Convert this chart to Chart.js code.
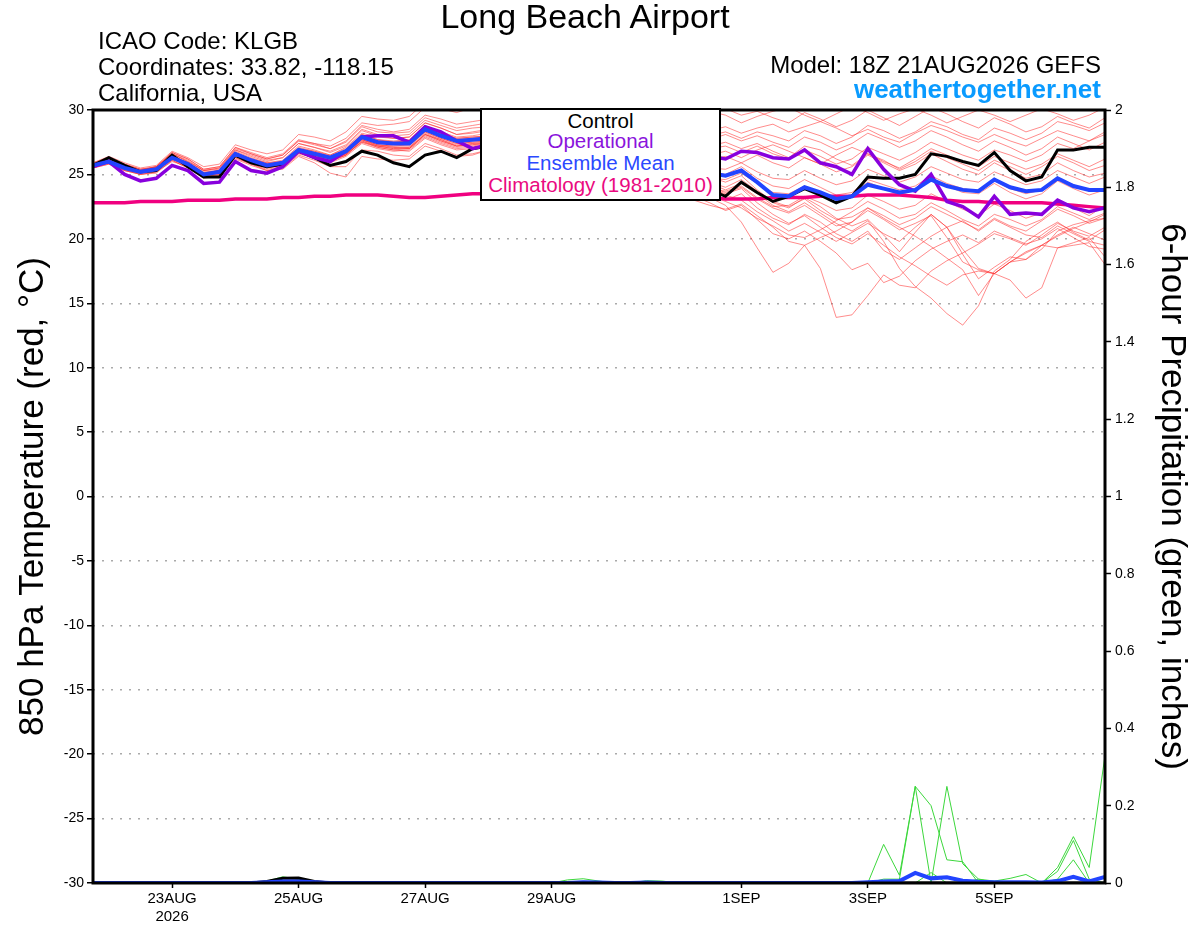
<!DOCTYPE html>
<html>
<head>
<meta charset="utf-8">
<script src="https://cdn.jsdelivr.net/npm/chart.js@4.4.1/dist/chart.umd.min.js"></script>
<style>
  body { margin: 0; background: #fff; }
  #wrap { position: relative; width: 1200px; height: 927px; font-family: "Liberation Sans", Arial, sans-serif; color: #000; }
  #wrap canvas { position: absolute; left: 0; top: 0; }
  .t { position: absolute; line-height: 1; white-space: nowrap; }
  #legend { position: absolute; left: 480px; top: 108px; width: 237px; height: 89px; border: 2px solid #000; background: #fff; font-size: 20.5px; }
  #legend div { position: absolute; left: 0; width: 100%; text-align: center; line-height: 1; }
</style>
</head>
<body>
<div id="wrap">
  <canvas id="meteogram" width="1200" height="927"></canvas>
  <div class="t" style="left:585px; top:-1px; font-size:34px; transform:translateX(-50%);">Long Beach Airport</div>
  <div class="t" style="left:98px; top:29px; font-size:24px;">ICAO Code: KLGB</div>
  <div class="t" style="left:98px; top:55px; font-size:24px;">Coordinates: 33.82, -118.15</div>
  <div class="t" style="left:98px; top:81px; font-size:24px;">California, USA</div>
  <div class="t" style="right:99px; top:53px; font-size:24px;">Model: 18Z 21AUG2026 GEFS</div>
  <div class="t" style="right:99px; top:76px; font-size:26px; font-weight:bold; color:#0a9bff;">weathertogether.net</div>
  <div id="legend">
    <div style="top:1px; color:#000;">Control</div>
    <div style="top:21px; color:#8a14dc;">Operational</div>
    <div style="top:43px; color:#2a48ff;">Ensemble Mean</div>
    <div style="top:65px; color:#ea0a80;">Climatology (1981-2010)</div>
  </div>
</div>
<script>
// forecast hours from 18Z 21AUG2026, 6-hourly
const fcstHours = [0, 6, 12, 18, 24, 30, 36, 42, 48, 54, 60, 66, 72, 78, 84, 90, 96, 102, 108, 114,
  120, 126, 132, 138, 144, 150, 156, 162, 168, 174, 180, 186, 192, 198, 204, 210, 216, 222, 228, 234,
  240, 246, 252, 258, 264, 270, 276, 282, 288, 294, 300, 306, 312, 318, 324, 330, 336, 342, 348, 354,
  360, 366, 372, 378, 384];

const dateTickHours = [30, 78, 126, 174, 246, 294, 342];
const dateTickText = [['23AUG', '2026'], '25AUG', '27AUG', '29AUG', '1SEP', '3SEP', '5SEP'];

// 850 hPa temperature (C)
const ctrlTemp = [25.7, 26.3, 25.7, 25.2, 25.3, 26.5, 25.6, 24.8, 24.8, 26.5, 25.9, 25.6, 25.8, 26.8, 26.3, 25.7, 26.0, 26.8, 26.5, 25.9, 25.6, 26.5, 26.8, 26.3, 27.0,
  27.2, 26.8, 27.0, 26.4, 25.9, 26.3, 25.8, 25.2, 25.6, 25.0, 24.6, 24.9, 24.2, 23.9, 23.8,
  23.3, 24.4, 23.6, 22.9, 23.3, 23.9, 23.4, 22.8, 23.3, 24.8, 24.7, 24.7, 25.0, 26.6, 26.4, 26.0, 25.7, 26.7, 25.3, 24.5, 24.8, 26.9, 26.9, 27.1, 27.1];

const operTemp = [25.6, 26.0, 25.0, 24.5, 24.7, 25.7, 25.3, 24.3, 24.4, 26.0, 25.3, 25.1, 25.6, 26.8, 26.3, 26.0, 26.8, 27.9, 28.0, 28.0, 27.5, 28.7, 28.3, 27.6, 27.0,
  27.3, 27.8, 28.2, 27.5, 27.0, 27.6, 27.1, 26.6, 27.2, 26.8, 26.3, 26.7, 26.1, 26.5, 26.4,
  26.2, 26.8, 26.7, 26.3, 26.2, 26.9, 25.9, 25.6, 25.0, 27.0, 25.4, 24.2, 23.7, 25.0, 22.9, 22.5, 21.7, 23.3, 21.9, 22.0, 21.9, 23.0, 22.4, 22.1, 22.4];

const meanTemp = [25.7, 26.0, 25.5, 25.2, 25.4, 26.3, 25.8, 25.0, 25.2, 26.6, 26.1, 25.7, 25.9, 26.9, 26.6, 26.3, 26.8, 27.9, 27.5, 27.4, 27.4, 28.5, 28.0, 27.6, 27.7,
  27.8, 27.5, 27.9, 27.2, 26.8, 27.3, 26.6, 26.2, 26.7, 26.0, 25.5, 25.9, 25.3, 25.0, 25.1,
  24.9, 25.3, 24.4, 23.4, 23.3, 24.0, 23.6, 23.1, 23.3, 24.2, 23.9, 23.6, 23.8, 24.6, 24.1, 23.8, 23.7, 24.6, 24.0, 23.7, 23.8, 24.7, 24.1, 23.8, 23.8];

const climTemp = [22.8, 22.8, 22.8, 22.9, 22.9, 22.9, 23.0, 23.0, 23.0, 23.1, 23.1, 23.1, 23.2, 23.2, 23.3, 23.3, 23.4, 23.4, 23.4, 23.3, 23.2, 23.2, 23.3, 23.4, 23.5,
  23.5, 23.5, 23.6, 23.6, 23.6, 23.5, 23.5, 23.5, 23.4, 23.4, 23.4, 23.3, 23.3, 23.3, 23.2,
  23.1, 23.1, 23.1, 23.2, 23.2, 23.2, 23.3, 23.3, 23.3, 23.4, 23.4, 23.4, 23.3, 23.2, 23.0, 22.9, 22.9, 22.8, 22.8, 22.8, 22.8, 22.7, 22.6, 22.5, 22.4];

// ensemble members
const mem01 = [25.8, 26.2, 25.6, 25.3, 25.6, 26.6, 26.0, 25.3, 25.5, 27.0, 26.6, 26.2, 26.5, 27.6, 27.4, 27.2, 27.8, 29.0, 28.8, 28.9, 29.1, 30.2, 30.1, 29.8, 30.2,
  30.4, 29.9, 30.3, 29.7, 29.2, 29.8, 29.5, 28.9, 29.6, 29.1, 28.7, 29.4, 28.8, 29.3, 29.8,
  30.1, 29.6, 29.9, 29.4, 29.0, 29.8, 29.3, 28.7, 29.2, 30.0, 29.4, 28.8, 29.5, 30.2, 29.7, 29.1, 28.6, 29.4, 28.9, 28.3, 28.7, 29.5, 29.0, 28.6, 29.4];
const mem02 = [25.6, 25.9, 25.4, 25.0, 25.2, 26.1, 25.5, 24.8, 24.9, 26.3, 25.8, 25.3, 25.5, 26.5, 26.1, 25.6, 25.6, 26.9, 26.8, 26.5, 26.4, 27.4, 27.0, 26.5, 26.6,
  26.9, 26.4, 26.8, 26.0, 25.5, 26.1, 25.4, 24.9, 25.3, 24.6, 24.0, 24.3, 23.5, 23.0, 22.6,
  22.3, 22.7, 21.8, 20.9, 19.8, 19.5, 17.7, 13.9, 14.1, 15.6, 17.2, 16.4, 16.2, 17.5, 18.3, 18.9, 19.6, 20.4, 20.0, 19.5, 20.3, 21.2, 20.6, 20.2, 20.9];
const mem03 = [25.7, 26.1, 25.6, 25.2, 25.4, 26.4, 25.9, 25.1, 25.3, 26.7, 26.0, 25.6, 25.8, 26.8, 26.5, 26.0, 26.5, 27.6, 27.1, 26.9, 26.8, 27.8, 27.3, 26.9, 27.0,
  27.2, 26.7, 27.3, 26.5, 26.0, 26.4, 25.7, 25.3, 25.8, 25.0, 24.4, 24.9, 24.1, 23.6, 23.2,
  22.6, 21.3, 19.3, 17.4, 18.1, 19.5, 20.1, 20.6, 21.3, 22.4, 21.8, 21.1, 21.6, 22.5, 21.9, 21.3, 20.7, 21.6, 21.0, 20.6, 21.4, 22.3, 21.8, 21.2, 21.6];
const mem04 = [25.5, 25.9, 25.3, 25.1, 25.3, 26.2, 25.6, 24.9, 25.1, 26.4, 25.9, 25.5, 25.7, 26.7, 26.3, 26.0, 26.6, 27.5, 27.2, 27.0, 27.1, 28.1, 27.6, 27.2, 27.4,
  27.5, 27.0, 27.6, 26.8, 26.4, 27.0, 26.3, 25.8, 26.4, 25.7, 25.1, 25.6, 24.8, 24.5, 24.3,
  23.8, 24.3, 23.5, 22.6, 22.1, 22.8, 22.0, 21.2, 20.6, 21.4, 19.8, 17.7, 16.3, 15.4, 14.2, 13.3, 14.8, 17.5, 18.4, 19.8, 20.6, 21.3, 20.5, 19.9, 20.7];
const mem05 = [25.8, 26.0, 25.4, 25.3, 25.5, 26.3, 25.7, 25.0, 25.2, 26.5, 26.2, 25.8, 26.0, 27.0, 26.7, 26.4, 26.9, 28.0, 27.6, 27.5, 27.6, 28.7, 28.2, 27.8, 27.9,
  28.0, 27.6, 28.1, 27.3, 26.9, 27.5, 26.8, 26.4, 26.9, 26.2, 25.7, 26.1, 25.4, 25.0, 24.8,
  24.4, 24.9, 23.8, 22.9, 22.5, 23.1, 22.2, 21.5, 21.7, 22.4, 21.6, 20.9, 20.2, 19.4, 18.5, 17.6, 15.6, 17.3, 16.8, 15.4, 16.2, 19.3, 19.5, 19.7, 18.0];
const mem06 = [25.6, 26.0, 25.5, 25.2, 25.3, 26.2, 25.8, 25.0, 25.1, 26.6, 26.0, 25.7, 25.9, 26.8, 26.6, 26.2, 26.7, 27.8, 27.3, 27.2, 27.3, 28.3, 27.8, 27.4, 27.5,
  27.6, 27.1, 27.7, 26.9, 26.5, 27.1, 26.5, 26.0, 26.5, 25.8, 25.4, 25.9, 25.1, 24.7, 24.4,
  24.0, 24.6, 23.7, 22.8, 22.4, 23.2, 22.5, 21.6, 21.0, 21.5, 20.3, 19.0, 20.5, 21.9, 20.9, 18.8, 16.9, 17.8, 18.6, 18.4, 19.2, 20.6, 21.1, 21.4, 21.6];
const mem07 = [25.7, 26.1, 25.5, 25.1, 25.4, 26.3, 25.7, 24.9, 25.2, 26.5, 26.0, 25.6, 25.8, 26.8, 26.5, 26.1, 26.6, 27.7, 27.3, 27.1, 27.0, 28.1, 27.7, 27.2, 27.3,
  27.4, 26.9, 27.4, 26.6, 26.2, 26.8, 26.1, 25.6, 26.1, 25.4, 24.9, 25.3, 24.6, 24.2, 23.9,
  23.5, 23.9, 22.8, 21.9, 21.2, 21.8, 20.9, 20.1, 19.6, 20.4, 19.5, 18.6, 17.9, 17.1, 16.4, 17.2, 17.5, 17.3, 18.2, 18.9, 19.5, 20.2, 20.8, 21.3, 21.9];
const mem08 = [25.9, 26.3, 25.8, 25.4, 25.6, 26.7, 26.2, 25.4, 25.6, 27.1, 26.7, 26.3, 26.6, 27.7, 27.4, 27.0, 27.6, 28.8, 28.5, 28.3, 28.5, 29.6, 29.3, 28.9, 29.1,
  29.3, 28.8, 29.2, 28.5, 28.0, 28.6, 28.2, 27.7, 28.3, 27.9, 27.4, 28.1, 27.6, 28.0, 28.4,
  28.7, 28.2, 28.6, 28.9, 28.3, 28.7, 29.1, 28.6, 28.0, 28.5, 27.9, 27.5, 28.2, 28.8, 28.4, 27.9, 27.5, 28.1, 27.6, 27.2, 27.8, 28.4, 28.0, 27.6, 28.3];
const mem09 = [25.6, 26.0, 25.6, 25.3, 25.5, 26.4, 25.9, 25.2, 25.3, 26.8, 26.3, 25.9, 26.1, 27.2, 26.9, 26.5, 27.1, 28.2, 27.9, 27.8, 27.9, 29.0, 28.6, 28.1, 28.3,
  28.5, 28.0, 28.4, 27.8, 27.3, 27.9, 27.4, 26.9, 27.5, 27.0, 26.6, 27.1, 26.5, 26.9, 27.2,
  27.5, 27.0, 27.4, 26.8, 26.3, 27.2, 26.9, 26.2, 25.7, 26.6, 26.1, 25.4, 26.0, 26.8, 26.3, 25.8, 25.3, 26.1, 25.6, 25.0, 25.6, 26.4, 25.9, 25.3, 25.7];
const mem10 = [25.9, 26.4, 25.9, 25.5, 25.7, 26.8, 26.3, 25.6, 25.8, 27.3, 26.9, 26.6, 26.9, 28.1, 27.9, 27.6, 28.3, 29.5, 29.3, 29.2, 29.5, 30.6, 30.4, 30.1, 30.5,
  30.7, 30.2, 30.6, 30.1, 29.6, 30.2, 29.9, 29.3, 29.9, 29.4, 29.0, 29.6, 29.1, 29.5, 29.9,
  29.6, 29.0, 29.5, 29.9, 30.2, 29.6, 29.1, 29.7, 30.3, 29.8, 29.2, 29.7, 30.1, 29.6, 29.0, 29.5, 30.0, 29.6, 29.1, 29.6, 30.1, 29.7, 29.2, 29.6, 30.2];
const mem11 = [25.7, 26.0, 25.4, 25.2, 25.3, 26.2, 25.7, 25.0, 25.2, 26.5, 26.1, 25.8, 25.9, 26.9, 26.6, 26.4, 26.9, 28.0, 27.5, 27.4, 27.5, 28.6, 28.1, 27.7, 27.8,
  27.9, 27.4, 27.9, 27.1, 26.7, 27.2, 26.6, 26.1, 26.7, 26.0, 25.6, 26.0, 25.4, 25.1, 25.2,
  25.0, 25.6, 24.7, 24.1, 23.9, 24.6, 24.0, 23.4, 23.6, 24.6, 24.2, 23.8, 24.1, 24.9, 24.3, 23.9, 23.7, 24.5, 23.9, 23.5, 23.8, 24.7, 24.2, 23.7, 23.9];
const mem12 = [25.5, 25.8, 25.3, 25.0, 25.2, 26.0, 25.6, 24.8, 25.0, 26.3, 25.8, 25.4, 25.6, 26.6, 26.3, 25.9, 26.4, 27.4, 27.0, 26.8, 26.9, 27.9, 27.4, 27.0, 27.1,
  27.3, 26.8, 27.4, 26.6, 26.1, 26.7, 26.0, 25.5, 26.0, 25.3, 24.8, 25.2, 24.5, 24.1, 23.9,
  23.7, 24.1, 23.2, 22.5, 22.6, 23.3, 22.8, 22.2, 22.4, 23.4, 22.9, 22.3, 22.6, 23.5, 22.9, 22.3, 21.8, 22.7, 22.2, 21.6, 22.0, 22.9, 22.4, 21.8, 22.6];
const mem13 = [25.8, 26.2, 25.7, 25.4, 25.5, 26.6, 26.1, 25.3, 25.5, 26.9, 26.5, 26.1, 26.3, 27.4, 27.1, 26.8, 27.3, 28.5, 28.1, 28.0, 28.1, 29.2, 28.8, 28.4, 28.6,
  28.7, 28.3, 28.6, 27.9, 27.5, 28.1, 27.6, 27.1, 27.7, 27.2, 26.8, 27.4, 26.9, 27.3, 27.7,
  28.1, 27.6, 28.0, 27.5, 27.1, 27.9, 27.5, 26.9, 27.4, 28.2, 27.7, 27.1, 27.6, 28.4, 27.9, 27.3, 26.8, 27.6, 27.1, 26.5, 27.0, 27.9, 27.4, 26.9, 27.5];
const mem14 = [25.6, 25.9, 25.5, 25.1, 25.3, 26.3, 25.7, 24.9, 25.1, 26.4, 25.9, 25.5, 25.7, 26.7, 26.4, 26.0, 26.5, 27.5, 27.1, 26.9, 27.0, 28.0, 27.5, 27.1, 27.2,
  27.4, 26.9, 27.5, 26.7, 26.3, 26.8, 26.2, 25.7, 26.3, 25.6, 25.0, 25.4, 24.7, 24.2, 23.7,
  23.0, 23.5, 22.4, 21.6, 21.1, 21.9, 21.3, 20.4, 19.8, 20.6, 19.1, 18.4, 19.3, 20.2, 20.9, 21.4, 20.6, 21.5, 20.9, 20.3, 20.1, 21.0, 20.4, 19.8, 19.5];
const mem15 = [25.7, 26.1, 25.6, 25.3, 25.4, 26.5, 25.9, 25.1, 25.3, 26.7, 26.2, 25.8, 26.0, 27.1, 26.8, 26.4, 26.9, 28.1, 27.7, 27.6, 27.7, 28.8, 28.3, 27.9, 28.0,
  28.2, 27.7, 28.2, 27.5, 27.0, 27.6, 27.0, 26.5, 27.1, 26.5, 26.1, 26.6, 25.9, 26.2, 26.5,
  26.8, 26.3, 26.9, 27.3, 26.8, 26.3, 25.8, 26.5, 27.1, 26.6, 26.0, 25.5, 26.2, 27.0, 26.5, 26.0, 25.6, 26.4, 25.9, 25.4, 25.8, 26.6, 26.1, 25.6, 26.2];
const mem16 = [25.6, 26.0, 25.4, 25.2, 25.4, 26.3, 25.8, 25.0, 25.2, 26.5, 26.0, 25.6, 25.8, 26.8, 26.5, 26.1, 26.7, 27.7, 27.3, 27.2, 27.2, 28.3, 27.8, 27.4, 27.5,
  27.6, 27.2, 27.7, 26.9, 26.4, 27.0, 26.3, 25.9, 26.4, 25.7, 25.2, 25.6, 24.9, 24.4, 24.0,
  23.4, 23.0, 22.1, 21.4, 20.6, 21.2, 20.5, 19.8, 20.5, 21.2, 20.4, 19.8, 20.9, 21.9, 20.9, 19.2, 17.7, 17.3, 18.2, 19.0, 19.5, 20.3, 20.9, 20.4, 19.9];
const mem17 = [25.7, 26.0, 25.5, 25.2, 25.4, 26.3, 25.8, 25.1, 25.2, 26.6, 26.2, 25.7, 25.9, 26.9, 26.6, 26.3, 26.8, 27.9, 27.6, 27.4, 27.4, 28.5, 28.0, 27.6, 27.7,
  27.8, 27.3, 27.8, 27.1, 26.6, 27.2, 26.5, 26.1, 26.6, 25.9, 25.4, 25.8, 25.2, 24.8, 24.7,
  24.6, 25.1, 24.3, 23.6, 23.5, 24.1, 23.6, 23.1, 23.4, 24.4, 23.9, 23.4, 23.8, 24.6, 24.1, 23.6, 23.5, 24.3, 23.6, 23.1, 23.5, 24.5, 23.9, 23.4, 23.8];
const mem18 = [25.8, 26.2, 25.7, 25.3, 25.6, 26.6, 26.0, 25.3, 25.4, 26.9, 26.4, 26.0, 26.3, 27.4, 27.1, 26.7, 27.2, 28.4, 28.0, 27.8, 27.9, 29.0, 28.6, 28.1, 28.2,
  28.4, 27.9, 28.4, 27.7, 27.2, 27.8, 27.3, 26.7, 27.3, 26.8, 26.3, 26.9, 26.3, 26.7, 27.0,
  27.2, 26.7, 27.2, 26.6, 26.2, 26.9, 26.4, 25.8, 26.2, 27.1, 26.6, 26.1, 26.7, 27.5, 27.0, 26.5, 26.1, 26.9, 26.5, 26.0, 26.5, 27.4, 27.0, 27.6, 28.1];
const mem19 = [25.5, 25.8, 25.3, 25.0, 25.1, 26.1, 25.5, 24.7, 24.9, 26.2, 25.7, 25.3, 25.4, 26.4, 25.9, 25.1, 24.8, 26.4, 26.2, 26.1, 26.2, 27.2, 26.8, 26.4, 26.5,
  26.9, 26.4, 26.9, 26.2, 25.7, 26.2, 25.6, 25.1, 25.5, 24.8, 24.3, 24.6, 23.9, 23.3, 22.8,
  22.2, 22.6, 21.5, 20.4, 20.0, 20.6, 19.8, 18.9, 17.6, 18.1, 16.6, 17.1, 18.3, 19.2, 19.8, 20.3, 19.7, 20.6, 20.1, 19.6, 20.0, 20.8, 20.1, 19.4, 19.2];
const mem20 = [25.7, 26.1, 25.6, 25.2, 25.5, 26.4, 25.9, 25.1, 25.3, 26.7, 26.2, 25.9, 26.0, 27.0, 26.8, 26.5, 27.0, 28.1, 27.7, 27.5, 27.6, 28.7, 28.2, 27.8, 27.9,
  28.0, 27.5, 28.0, 27.3, 26.8, 27.4, 26.9, 26.4, 26.9, 26.3, 25.9, 26.4, 25.8, 26.1, 26.2,
  26.4, 25.9, 26.5, 25.9, 25.5, 26.3, 25.8, 25.2, 25.6, 26.5, 25.9, 25.3, 25.8, 26.6, 26.0, 25.4, 25.0, 25.9, 25.3, 24.7, 25.0, 25.9, 25.3, 24.8, 25.1];
const mem21 = [25.6, 26.0, 25.5, 25.1, 25.3, 26.2, 25.7, 24.9, 25.1, 26.5, 26.0, 25.6, 25.8, 26.7, 26.5, 26.2, 26.6, 27.7, 27.2, 27.1, 27.1, 28.2, 27.7, 27.3, 27.4,
  27.5, 27.0, 27.5, 26.8, 26.3, 26.9, 26.2, 25.7, 26.2, 25.5, 25.0, 25.4, 24.7, 24.3, 24.0,
  23.6, 24.0, 23.1, 22.4, 22.0, 22.6, 21.8, 21.0, 21.3, 22.2, 21.5, 20.7, 21.2, 21.8, 20.1, 18.2, 17.6, 17.3, 18.2, 18.4, 19.5, 19.3, 19.7, 20.1, 18.6];
const mem22 = [25.8, 26.3, 25.8, 25.4, 25.6, 26.7, 26.2, 25.4, 25.6, 27.1, 26.6, 26.2, 26.5, 27.6, 27.3, 27.0, 27.5, 28.7, 28.3, 28.2, 28.3, 29.4, 29.0, 28.6, 28.8,
  29.0, 28.5, 28.9, 28.3, 27.8, 28.4, 28.0, 27.4, 28.0, 27.6, 27.1, 27.7, 27.2, 27.6, 28.0,
  28.3, 27.8, 28.3, 28.0, 27.6, 28.4, 28.0, 27.4, 27.9, 28.8, 28.4, 27.8, 28.3, 29.1, 28.7, 28.1, 27.7, 28.6, 28.2, 27.7, 28.2, 29.1, 28.8, 28.4, 29.0];
const mem23 = [25.6, 25.9, 25.5, 25.2, 25.3, 26.2, 25.6, 24.9, 25.0, 26.4, 25.9, 25.6, 25.7, 26.7, 26.4, 26.1, 26.5, 27.6, 27.2, 27.0, 27.0, 28.1, 27.6, 27.2, 27.3,
  27.5, 27.0, 27.5, 26.7, 26.2, 26.8, 26.1, 25.6, 26.0, 25.3, 24.8, 25.1, 24.4, 23.9, 23.4,
  22.9, 22.4, 21.6, 21.0, 20.3, 20.1, 20.7, 21.4, 22.1, 22.9, 22.3, 21.6, 21.9, 22.8, 22.2, 21.5, 21.0, 21.9, 21.5, 21.0, 21.5, 22.5, 22.0, 21.5, 22.0];
const mem24 = [25.7, 26.1, 25.5, 25.3, 25.5, 26.4, 25.8, 25.0, 25.3, 26.7, 26.1, 25.7, 26.0, 27.0, 26.7, 26.3, 26.9, 28.0, 27.6, 27.5, 27.5, 28.6, 28.1, 27.7, 27.8,
  27.9, 27.5, 28.0, 27.3, 26.8, 27.3, 26.7, 26.3, 26.8, 26.1, 25.7, 26.2, 25.6, 25.4, 25.5,
  25.4, 25.9, 25.2, 24.7, 24.6, 25.3, 24.7, 24.2, 24.5, 25.4, 24.9, 24.4, 24.8, 25.6, 25.1, 24.6, 24.4, 25.2, 24.7, 24.2, 24.5, 25.3, 24.8, 24.3, 24.8];
const memberTemps = [mem01, mem02, mem03, mem04, mem05, mem06, mem07, mem08, mem09, mem10, mem11, mem12,
  mem13, mem14, mem15, mem16, mem17, mem18, mem19, mem20, mem21, mem22, mem23, mem24];

// 6-hour precipitation (inches)
const pcpCtrl = [0, 0, 0, 0, 0, 0, 0, 0, 0, 0,
  0, 0.004, 0.012, 0.013, 0.004, 0, 0, 0, 0, 0,
  0, 0, 0, 0, 0, 0, 0, 0, 0, 0,
  0, 0, 0, 0, 0, 0, 0, 0, 0, 0,
  0, 0, 0, 0, 0, 0, 0, 0, 0, 0,
  0, 0, 0, 0, 0, 0, 0, 0, 0, 0,
  0, 0, 0, 0, 0];
const pcpMean = [0, 0, 0, 0, 0, 0, 0, 0, 0, 0,
  0, 0.002, 0.004, 0.004, 0.002, 0, 0, 0, 0, 0,
  0, 0, 0, 0, 0, 0, 0, 0, 0, 0,
  0, 0.002, 0.001, 0, 0, 0.001, 0, 0, 0, 0,
  0, 0, 0, 0, 0, 0, 0, 0, 0, 0.002,
  0.004, 0.005, 0.026, 0.012, 0.015, 0.006, 0.003, 0.002, 0.002, 0.002,
  0.001, 0.005, 0.016, 0.004, 0.016];
const pcpMem1 = [0, 0, 0, 0, 0, 0, 0, 0, 0, 0,
  0, 0.005, 0.016, 0.010, 0, 0, 0, 0, 0, 0,
  0, 0, 0, 0, 0, 0, 0.003, 0, 0, 0,
  0.008, 0.011, 0.005, 0, 0, 0.006, 0.005, 0, 0, 0,
  0, 0, 0, 0, 0, 0, 0, 0, 0, 0,
  0.100, 0.020, 0.250, 0.200, 0.060, 0.055, 0, 0, 0, 0,
  0, 0, 0, 0, 0];
const pcpMem2 = [0, 0, 0, 0, 0, 0, 0, 0, 0, 0,
  0, 0, 0, 0, 0, 0, 0, 0, 0, 0,
  0, 0, 0, 0, 0, 0, 0, 0, 0, 0,
  0, 0, 0, 0, 0, 0, 0, 0, 0, 0,
  0, 0, 0, 0, 0, 0, 0, 0, 0, 0,
  0.010, 0.010, 0.250, 0, 0.250, 0.050, 0.010, 0, 0, 0,
  0, 0, 0, 0, 0];
const pcpMem3 = [0, 0, 0, 0, 0, 0, 0, 0, 0, 0,
  0, 0, 0, 0, 0, 0, 0, 0, 0, 0,
  0, 0, 0, 0, 0, 0, 0, 0, 0, 0,
  0, 0, 0, 0, 0, 0, 0, 0, 0, 0,
  0, 0, 0, 0, 0, 0, 0, 0, 0, 0,
  0, 0, 0, 0.027, 0, 0, 0.010, 0.005, 0.012, 0.022,
  0, 0, 0, 0, 0];
const pcpMem4 = [0, 0, 0, 0, 0, 0, 0, 0, 0, 0,
  0, 0, 0, 0, 0, 0, 0, 0, 0, 0,
  0, 0, 0, 0, 0, 0, 0, 0, 0, 0,
  0, 0, 0, 0, 0, 0, 0, 0, 0, 0,
  0, 0, 0, 0, 0, 0, 0, 0, 0, 0,
  0, 0, 0, 0, 0, 0, 0, 0, 0, 0,
  0, 0.040, 0.120, 0.040, 0.330];
const pcpMem5 = [0, 0, 0, 0, 0, 0, 0, 0, 0, 0,
  0, 0, 0, 0, 0, 0, 0, 0, 0, 0,
  0, 0, 0, 0, 0, 0, 0, 0, 0, 0,
  0, 0, 0, 0, 0, 0, 0, 0, 0, 0,
  0, 0, 0, 0, 0, 0, 0, 0, 0, 0,
  0, 0, 0, 0, 0, 0, 0, 0, 0, 0,
  0, 0.030, 0.110, 0.010, 0];
const pcpMem6 = [0, 0, 0, 0, 0, 0, 0, 0, 0, 0,
  0, 0, 0, 0, 0, 0, 0, 0, 0, 0,
  0, 0, 0, 0, 0, 0, 0, 0, 0, 0,
  0, 0, 0, 0, 0, 0, 0, 0, 0, 0,
  0, 0, 0, 0, 0, 0, 0, 0, 0, 0,
  0, 0, 0, 0, 0, 0, 0, 0, 0, 0,
  0, 0.010, 0.060, 0, 0];
const memberPcp = [pcpMem1, pcpMem2, pcpMem3, pcpMem4, pcpMem5, pcpMem6];

Chart.defaults.font.family = '"Liberation Sans", Arial, Helvetica, sans-serif';
Chart.defaults.color = '#000';

const line = (data, color, width, axis, order) => ({
  data: data, borderColor: color, borderWidth: width, yAxisID: axis, order: order,
  pointRadius: 0, tension: 0, fill: false
});

const datasets = [];
memberTemps.forEach(m => datasets.push(line(m, 'rgba(255,45,45,0.55)', 1, 'y', 10)));
memberPcp.forEach(m => datasets.push(line(m, 'rgb(60,215,60)', 1, 'y2', 9)));
datasets.push(line(climTemp, 'rgb(240,0,128)', 3.5, 'y', 5));
datasets.push(line(ctrlTemp, '#000', 3, 'y', 4));
datasets.push(line(operTemp, 'rgb(136,0,221)', 3.5, 'y', 3));
datasets.push(line(meanTemp, 'rgb(34,68,255)', 4, 'y', 2));
datasets.push(line(pcpCtrl, '#000', 3, 'y2', 1.5));
datasets.push(line(pcpMean, 'rgb(34,68,255)', 4, 'y2', 1));

// thick frame round the plot area
const framePlugin = {
  id: 'frame',
  afterDatasetsDraw(chart) {
    const { ctx, chartArea: a } = chart;
    ctx.save();
    ctx.strokeStyle = '#000';
    ctx.lineWidth = 3;
    ctx.strokeRect(a.left, a.top, a.right - a.left, a.bottom - a.top);
    ctx.restore();
  }
};

new Chart(document.getElementById('meteogram'), {
  type: 'line',
  data: { labels: fcstHours, datasets: datasets },
  options: {
    responsive: false,
    animation: false,
    events: [],
    layout: { padding: { top: 110, left: 0, right: 0, bottom: 0 } },
    plugins: { legend: { display: false }, tooltip: { enabled: false } },
    scales: {
      x: {
        type: 'category',
        afterFit: s => { s.height = 44; },
        afterBuildTicks: s => { s.ticks = dateTickHours.map(h => ({ value: fcstHours.indexOf(h) })); },
        grid: { drawOnChartArea: false, tickLength: 5, tickColor: '#000', tickWidth: 1.5 },
        border: { display: false },
        ticks: {
          autoSkip: false, maxRotation: 0, padding: 2, color: '#000', font: { size: 15 },
          callback: v => {
            const k = dateTickHours.indexOf(fcstHours[v]);
            return k >= 0 ? dateTickText[k] : '';
          }
        }
      },
      y: {
        position: 'left', min: -30, max: 30,
        afterFit: s => { s.width = 93; },
        ticks: { stepSize: 5, color: '#000', font: { size: 14 }, padding: 3 },
        grid: { color: '#aaaaaa', lineWidth: 1.5, tickColor: '#000', tickLength: 6, tickWidth: 1.5, tickBorderDash: [] },
        border: { display: false, dash: [2, 7] },
        title: { display: true, text: '850 hPa Temperature (red, °C)', color: '#000', font: { size: 35 }, padding: { top: 12, bottom: 0 } }
      },
      y2: {
        position: 'right', min: 0, max: 2,
        afterFit: s => { s.width = 95; },
        ticks: { stepSize: 0.2, color: '#000', font: { size: 14 }, padding: 4, callback: v => String(+v.toFixed(1)) },
        grid: { drawOnChartArea: false, tickColor: '#000', tickLength: 6, tickWidth: 1.5 },
        border: { display: false },
        title: { display: true, text: '6-hour Precipitation (green, inches)', color: '#000', font: { size: 35 }, padding: { top: 7, bottom: 0 } }
      }
    }
  },
  plugins: [framePlugin]
});
</script>
</body>
</html>
